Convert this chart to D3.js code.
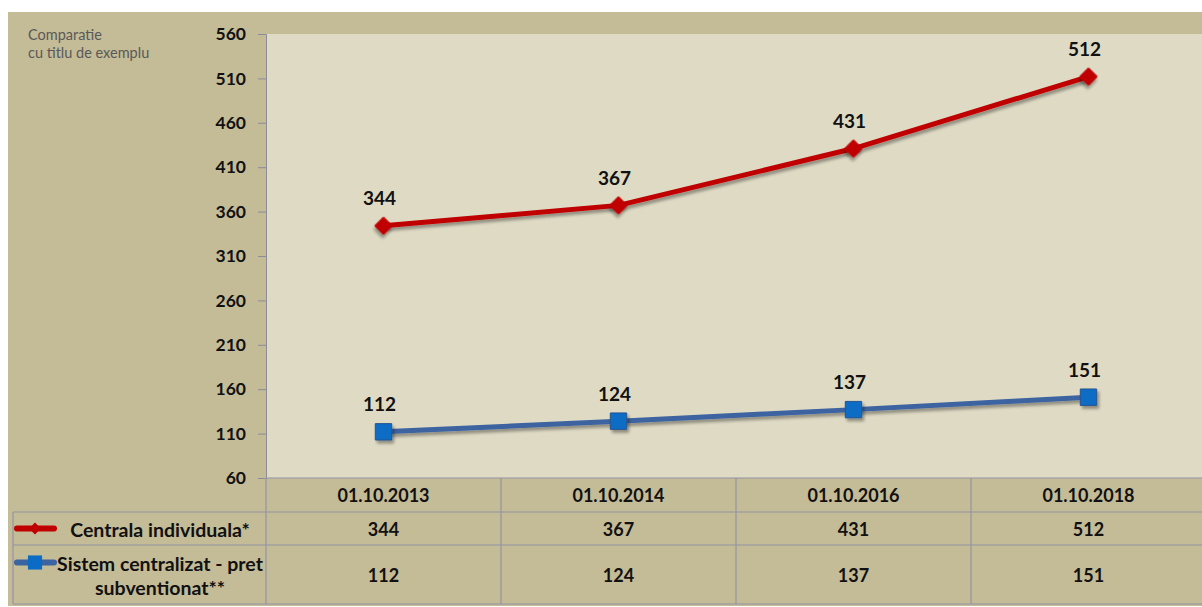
<!DOCTYPE html>
<html>
<head>
<meta charset="utf-8">
<script src="https://cdn.jsdelivr.net/npm/d3@7"></script>
<style>
  body { margin: 0; background: #fff; }
  text { font-family: Lato, "Open Sans", sans-serif; }
</style>
</head>
<body>
<div id="content"></div>
<script>
// chart data
const categories = ["01.10.2013", "01.10.2014", "01.10.2016", "01.10.2018"];
const seriesNames = ["Centrala individuala*", "Sistem centralizat - pret subventionat**"];
const individual = [344, 367, 431, 512];
const centralized = [112, 124, 137, 151];
const yTicks = [60, 110, 160, 210, 260, 310, 360, 410, 460, 510, 560];
const titleLines = ["Comparatie", "cu titlu de exemplu"];

const W = 1202, H = 607;
const plot = {left: 266, top: 34, right: 1206, bottom: 478};
const rows = [478, 512, 545, 604];
const legendLeft = 13;

const series = [
  {name: seriesNames[0], values: individual, line: "#C00000", fill: "#C00000", marker: "diamond",
   legendLines: ["Centrala individuala*"]},
  {name: seriesNames[1], values: centralized, line: "#3C64A0", fill: "#0A6CC4", marker: "square",
   legendLines: ["Sistem centralizat - pret", "subventionat**"]}
];

const svg = d3.select("#content").append("svg")
  .attr("width", W).attr("height", H);

const defs = svg.append("defs");
const shadow = defs.append("filter").attr("id", "shadow")
  .attr("x", "-50%").attr("y", "-50%").attr("width", "200%").attr("height", "200%");
shadow.append("feDropShadow").attr("dx", 2).attr("dy", 3).attr("stdDeviation", 1.5)
  .attr("flood-color", "#000").attr("flood-opacity", 0.35);

// background
svg.append("rect").attr("x", 8).attr("y", 12).attr("width", W - 8).attr("height", H - 13)
  .attr("fill", "#C4BB97");
svg.append("rect").attr("x", plot.left).attr("y", plot.top)
  .attr("width", plot.right - plot.left).attr("height", plot.bottom - plot.top)
  .attr("fill", "#DEDAC4");

// title
svg.append("text").attr("x", 28).attr("y", 40)
  .attr("font-size", 14.5).attr("fill", "#595959")
  .selectAll("tspan").data(titleLines).enter().append("tspan")
  .attr("x", 28).attr("dy", (d, i) => i === 0 ? 0 : 18).text(d => d);

const x = d3.scaleBand().domain(categories).range([plot.left, plot.right]);
const y = d3.scaleLinear().domain([60, 560]).range([plot.bottom, plot.top]);

// y axis
const yAxis = svg.append("g").attr("transform", `translate(${plot.left},0)`)
  .call(d3.axisLeft(y).tickValues(yTicks).tickSize(8).tickPadding(12));
yAxis.select(".domain").attr("stroke", "#8C8C9A");
yAxis.selectAll(".tick line").attr("stroke", "#8C8C9A");
yAxis.selectAll(".tick text").attr("font-size", 17.5).attr("font-weight", "bold")
  .attr("fill", "#111").style("font-family", "Lato, 'Open Sans', sans-serif");

// lines and markers
const line = d3.line().x((d, i) => x(categories[i]) + x.bandwidth() / 2).y(d => y(d));

series.forEach(s => {
  svg.append("path").datum(s.values)
    .attr("fill", "none").attr("stroke", s.line).attr("stroke-width", 5)
    .attr("stroke-linejoin", "round")
    .attr("filter", "url(#shadow)")
    .attr("d", line);

  const sym = d3.symbol().type(d3.symbolSquare)
    .size(s.marker === "diamond" ? 150 : 270);
  svg.append("g").selectAll("path").data(s.values).enter().append("path")
    .attr("transform", (d, i) => `translate(${x(categories[i]) + x.bandwidth() / 2},${y(d)})` +
      (s.marker === "diamond" ? " rotate(45)" : ""))
    .attr("d", sym)
    .attr("fill", s.fill)
    .attr("stroke", s.marker === "diamond" ? s.fill : "#2A5590")
    .attr("stroke-width", 1)
    .attr("filter", "url(#shadow)");

  svg.append("g").selectAll("text").data(s.values).enter().append("text")
    .attr("x", (d, i) => x(categories[i]) + x.bandwidth() / 2 - 4)
    .attr("y", d => y(d) - 28)
    .attr("text-anchor", "middle").attr("dominant-baseline", "central")
    .attr("font-size", 19).attr("font-weight", "bold").attr("fill", "#111")
    .text(d => d);
});

// data table
const grid = svg.append("g").attr("stroke", "#9494A4").attr("stroke-width", 1.2);
rows.forEach((r, i) => {
  grid.append("line").attr("x1", i === 0 ? plot.left : legendLeft).attr("x2", W)
    .attr("y1", r).attr("y2", r);
});
grid.append("line").attr("x1", legendLeft).attr("x2", legendLeft).attr("y1", rows[1]).attr("y2", rows[3]);
categories.forEach(c => {
  grid.append("line").attr("x1", x(c)).attr("x2", x(c)).attr("y1", rows[0]).attr("y2", rows[3]);
});

const cellText = (txt, cx, cy) => svg.append("text")
  .attr("x", cx).attr("y", cy).attr("text-anchor", "middle").attr("dominant-baseline", "central")
  .attr("font-size", 18).attr("font-weight", "bold").attr("fill", "#111").text(txt);

categories.forEach(c => cellText(c, x(c) + x.bandwidth() / 2, (rows[0] + rows[1]) / 2));
series.forEach((s, si) => {
  const cy = (rows[si + 1] + rows[si + 2]) / 2;
  s.values.forEach((v, i) => cellText(v, x(categories[i]) + x.bandwidth() / 2, cy));

  // legend key
  const ky = si === 0 ? cy : cy - 12;
  svg.append("line").attr("x1", 17).attr("x2", 54).attr("y1", ky).attr("y2", ky)
    .attr("stroke", s.line).attr("stroke-width", 6).attr("stroke-linecap", "round");
  svg.append("path")
    .attr("transform", `translate(35,${ky})` + (s.marker === "diamond" ? " rotate(45)" : ""))
    .attr("d", d3.symbol().type(d3.symbolSquare).size(s.marker === "diamond" ? 70 : 200))
    .attr("fill", s.fill);

  const lt = svg.append("text").attr("font-size", 19.5).attr("font-weight", "bold").attr("fill", "#111")
    .attr("text-anchor", "middle").attr("dominant-baseline", "central");
  s.legendLines.forEach((l, li) => {
    lt.append("tspan").attr("x", 160).attr("y", ky + li * 24).text(l);
  });
});
</script>
</body>
</html>
